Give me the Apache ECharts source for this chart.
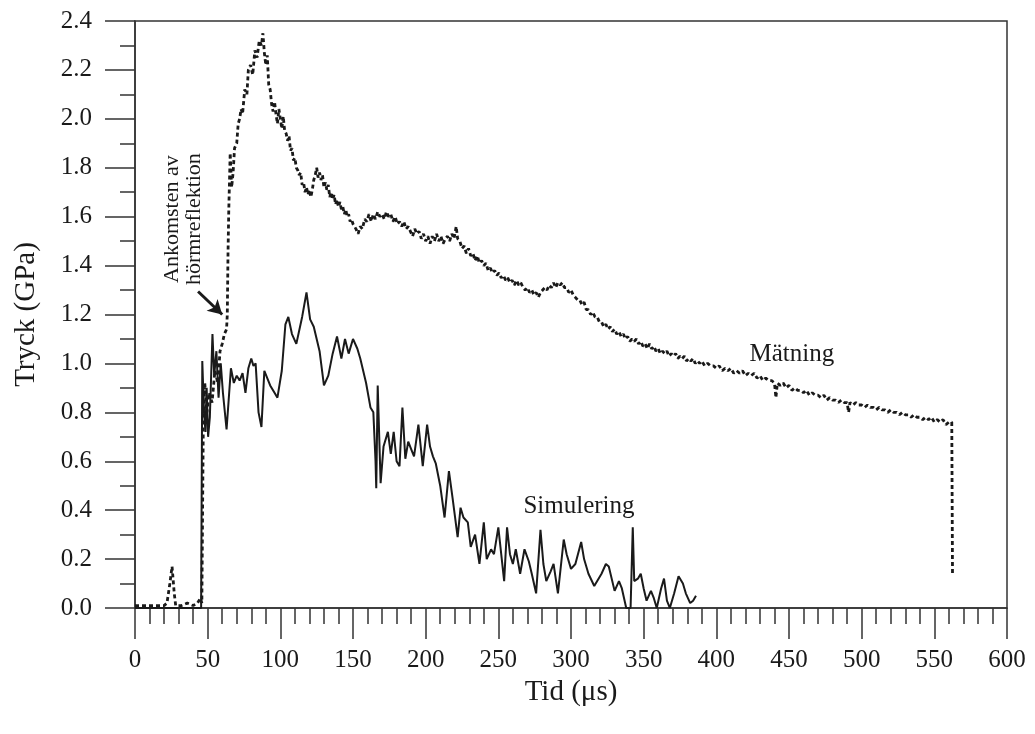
<!DOCTYPE html>
<html>
<head>
<meta charset="utf-8">
<script src="https://cdn.jsdelivr.net/npm/echarts@6/dist/echarts.min.js"></script>
<style>
html,body{margin:0;padding:0;background:#fff;}
#chart{width:1035px;height:734px;}
</style>
</head>
<body>
<div id="chart"></div>
<script>
// ---- data (time in µs, pressure in GPa) ----
const xTicks = [0, 50, 100, 150, 200, 250, 300, 350, 400, 450, 500, 550, 600];
const yTicks = [0.0, 0.2, 0.4, 0.6, 0.8, 1.0, 1.2, 1.4, 1.6, 1.8, 2.0, 2.2, 2.4];

// Mätning (measurement), [time, pressure]
const matning = [
[0,0.01],[5,0.01],[10,0.01],[15,0.01],[20,0.01],[22,0.02],[24,0.10],[25.5,0.17],[27,0.06],[28,0.01],[32,0.01],[36,0.02],[40,0.01],[43,0.02],[45,0.04],[46,0.02],
[46.5,0.40],[47,0.75],[48,0.92],[49.5,0.80],[51,0.88],[53,0.84],[55,0.97],[57,0.92],[58.5,1.05],[60,1.08],[61.5,1.12],[63,1.14],[63.5,1.20],[64,1.45],[64.5,1.62],[65.5,1.86],[66.5,1.72],[67.5,1.78],[68.5,1.88],
[70,1.90],[71,1.98],[72,2.00],[73,2.04],[74,2.02],[75.5,2.12],[77,2.10],[78,2.20],[79.5,2.22],[81,2.18],[82.5,2.28],[84,2.25],[85.5,2.32],[87,2.30],[88,2.35],[89,2.27],
[90,2.22],[91,2.26],[92,2.14],[93,2.12],[94,2.06],[95,2.03],[96,2.07],[97,2.02],[98,1.98],[99,2.04],[100,2.00],[101,1.96],[102,2.01],[103,1.95],[104,1.94],[105,1.91],[106,1.93],[107,1.87],[108,1.88],[109,1.83],
[110,1.84],[111,1.80],[112,1.79],[113,1.77],[114,1.78],[115,1.73],[116,1.74],[117,1.70],[118,1.72],[119,1.69],[120,1.71],[121,1.68],[122,1.71],[123,1.75],[124,1.77],[125,1.80],[126,1.76],[127,1.78],[128,1.75],[129,1.77],
[130,1.72],[131,1.74],[132,1.71],[133,1.73],[134,1.68],[135,1.70],[136,1.67],[137,1.69],[138,1.65],[139,1.67],[140,1.64],[141,1.66],[142,1.63],[143,1.64],[144,1.61],[145,1.63],[146,1.60],[147,1.61],[148,1.58],[149,1.59],
[150,1.57],[152,1.55],[153.5,1.53],[155,1.56],[156.5,1.55],[158,1.59],[159.5,1.58],[161,1.61],[162.5,1.58],[164,1.61],[165.5,1.59],[167,1.62],[168.5,1.60],[170,1.61],[171.5,1.59],[173,1.62],[174.5,1.60],[176,1.61],[177.5,1.58],[179,1.60],
[180.5,1.57],[182,1.58],[183.5,1.56],[185,1.58],[186.5,1.55],[188,1.56],[189.5,1.54],[191,1.52],[192.5,1.55],[194,1.53],[195.5,1.54],[197,1.51],[198.5,1.53],[200,1.50],[201.5,1.52],[203,1.49],[204.5,1.52],[206,1.50],[207.5,1.53],[209,1.50],
[210.5,1.52],[212,1.49],[213.5,1.51],[215,1.52],[216.5,1.50],[218,1.53],[219.5,1.51],[221,1.56],[222,1.51],[223.5,1.50],[225,1.47],[226.5,1.48],[228,1.45],[229.5,1.47],[231,1.44],[232.5,1.45],[234,1.42],[235.5,1.44],[237,1.41],[238.5,1.42],
[240,1.40],[241.5,1.41],[243,1.38],[244.5,1.39],[246,1.37],[247.5,1.38],[249,1.36],[250.5,1.37],[252,1.35],[253.5,1.36],[255,1.34],[256.5,1.35],[258,1.33],[259.5,1.34],[261,1.32],[262.5,1.34],[264,1.32],[265.5,1.33],[267,1.31],[268.5,1.30],
[270,1.31],[271.5,1.29],[273,1.30],[274.5,1.28],[276,1.29],[277.5,1.27],[279,1.29],[280.5,1.30],[282,1.31],[283.5,1.30],[285,1.32],[286.5,1.31],[288,1.33],[289.5,1.31],[291,1.33],[292.5,1.32],[294,1.33],[295.5,1.31],[297,1.31],[298.5,1.29],
[300,1.30],[301.5,1.28],[303,1.27],[304.5,1.26],[306,1.26],[307.5,1.24],[309,1.25],[310.5,1.22],[312,1.22],[313.5,1.20],[315,1.21],[316.5,1.19],[318,1.19],[319.5,1.17],[321,1.17],[322.5,1.15],[324,1.16],[325.5,1.14],[327,1.15],[328.5,1.13],
[330,1.14],[331.5,1.12],[333,1.13],[334.5,1.11],[336,1.12],[337.5,1.10],[339,1.11],[340.5,1.09],[342,1.10],[343.5,1.09],[345,1.10],[346.5,1.08],[348,1.09],[349.5,1.07],[351,1.08],[352.5,1.06],[354,1.08],[355.5,1.06],[357,1.07],[358.5,1.05],
[360,1.06],[361.5,1.04],[363,1.05],[364.5,1.04],[366,1.05],[367.5,1.03],[369,1.04],[370.5,1.03],[372,1.04],[373.5,1.02],[375,1.03],[376.5,1.02],[378,1.03],[379.5,1.01],[381,1.02],[382.5,1.01],[384,1.02],[385.5,1.00],[387,1.01],[388.5,1.00],
[390,1.01],[392,0.99],[394,1.00],[396,0.99],[398,0.99],[400,0.98],[402,0.99],[404,0.97],[406,0.98],[408,0.97],[410,0.98],[412,0.96],[414,0.97],[416,0.96],[418,0.97],[420,0.95],[422,0.96],[424,0.95],[426,0.96],[428,0.94],
[430,0.95],[432,0.93],[434,0.94],[436,0.93],[438,0.93],[440,0.92],[441,0.86],[442,0.92],[444,0.91],[446,0.92],[448,0.90],[450,0.91],[452,0.89],[454,0.90],[456,0.89],[458,0.89],[460,0.88],[462,0.89],[464,0.87],[466,0.88],
[468,0.87],[470,0.87],[472,0.86],[474,0.87],[476,0.85],[478,0.86],[480,0.85],[482,0.85],[484,0.84],[486,0.85],[488,0.84],[490,0.84],[491,0.80],[492,0.84],[494,0.83],[496,0.84],[498,0.83],[500,0.83],[502,0.82],[504,0.83],
[506,0.82],[508,0.82],[510,0.81],[512,0.82],[514,0.81],[516,0.81],[518,0.80],[520,0.81],[522,0.80],[524,0.80],[526,0.79],[528,0.80],[530,0.79],[532,0.79],[534,0.78],[536,0.79],[538,0.78],[540,0.78],[542,0.77],[544,0.78],
[546,0.77],[548,0.78],[550,0.76],[552,0.77],[554,0.76],[556,0.77],[558,0.75],[560,0.76],[562,0.76],[562.5,0.14]
];

// Simulering (simulation), [time, pressure]
const simulering = [
[0,0.0],[45.5,0.0],[46.3,1.01],[47.5,0.80],[48.5,0.72],[49.3,0.90],[50.3,0.70],[51.5,0.78],[53.3,1.12],[54.5,0.95],[56,1.05],[57.5,0.86],[59,1.00],[60.5,0.88],[63,0.73],[66,0.98],[68,0.92],[70,0.95],[72,0.93],[74,0.96],
[76,0.88],[78,0.98],[80,1.02],[81.5,0.99],[83,1.00],[85,0.80],[87,0.74],[89,0.97],[91,0.94],[93,0.91],[96,0.88],[98,0.86],[101,0.97],[103.5,1.16],[105.5,1.19],[108,1.12],[111,1.08],[115,1.19],[118,1.29],[120.5,1.18],
[123,1.15],[127,1.05],[130,0.91],[133,0.95],[136,1.04],[139,1.11],[142,1.02],[144.5,1.10],[147,1.04],[150,1.10],[153,1.06],[155,1.02],[159,0.92],[162,0.82],[164,0.80],[165.5,0.60],[166,0.49],[167,0.91],[169,0.51],[171,0.66],
[174,0.72],[176,0.63],[178,0.72],[180,0.60],[182,0.58],[184,0.82],[186,0.61],[188,0.68],[190,0.65],[192,0.62],[195,0.75],[198,0.58],[201,0.75],[203,0.66],[205,0.62],[207,0.59],[210,0.50],[213,0.37],[216,0.56],[218.5,0.45],
[222,0.29],[224,0.41],[226,0.37],[229,0.35],[231,0.25],[234,0.30],[237,0.18],[240,0.35],[242,0.20],[245,0.24],[247,0.22],[250,0.33],[254,0.11],[256,0.33],[258,0.22],[260,0.18],[262,0.24],[265,0.14],[268,0.24],[271,0.19],
[273,0.14],[276,0.06],[279,0.32],[281,0.18],[283,0.11],[286,0.15],[288,0.18],[291,0.06],[295,0.28],[297,0.22],[300,0.16],[303,0.18],[307,0.27],[309,0.20],[312,0.14],[316,0.09],[321,0.14],[324,0.18],[326,0.17],[330,0.07],
[333,0.11],[335,0.08],[338,0.0],[341,0.0],[342.5,0.33],[343.5,0.11],[346,0.12],[348,0.14],[350,0.08],[352,0.03],[355,0.07],[357,0.04],[359,0.0],[362,0.08],[364,0.12],[366,0.03],[368,0.0],[371,0.06],[374,0.13],[377,0.10],
[379,0.06],[382,0.02],[384,0.03],[386,0.05]
];

const annotations = [
  {text: 'Ankomsten av', t: 25.5, p: 1.59, rot: true, size: 22},
  {text: 'hörmreflektion', t: 40.5, p: 1.59, rot: true, size: 22},
  {text: 'Mätning', t: 452, p: 1.036, rot: false, size: 25},
  {text: 'Simulering', t: 305.5, p: 0.414, rot: false, size: 25}
];
const arrowFrom = [43.4, 1.294];
const arrowTo = [60, 1.20];

// ---- chart ----
const FONT = 'Liberation Serif, Times New Roman, serif';
const INK = '#1a1a1a';
const chart = echarts.init(document.getElementById('chart'), null, {renderer: 'canvas'});

chart.setOption({
  animation: false,
  backgroundColor: '#fff',
  grid: {left: 135, right: 28, top: 21, bottom: 126, show: true, borderColor: '#333', borderWidth: 1.5},
  xAxis: {
    type: 'value', min: xTicks[0], max: xTicks[xTicks.length - 1], interval: xTicks[1] - xTicks[0],
    name: 'Tid (μs)', nameLocation: 'middle', nameGap: 67,
    nameTextStyle: {fontFamily: FONT, fontSize: 29, color: INK},
    axisLine: {lineStyle: {color: '#333', width: 1.5}},
    axisTick: {show: true, inside: false, length: 31, lineStyle: {color: '#333', width: 1.5}},
    minorTick: {show: true, splitNumber: 5, length: 16, lineStyle: {color: '#333', width: 1.5}},
    axisLabel: {fontFamily: FONT, fontSize: 25, color: INK, margin: 40, showMaxLabel: true},
    splitLine: {show: false}
  },
  yAxis: {
    type: 'value', min: yTicks[0], max: yTicks[yTicks.length - 1], interval: 0.2,
    name: 'Tryck (GPa)', nameLocation: 'middle', nameGap: 94,
    nameTextStyle: {fontFamily: FONT, fontSize: 29, color: INK},
    axisLine: {show: true, lineStyle: {color: '#333', width: 1.5}},
    axisTick: {show: true, inside: false, length: 30, lineStyle: {color: '#333', width: 1.5}},
    minorTick: {show: true, splitNumber: 2, length: 15, lineStyle: {color: '#333', width: 1.5}},
    axisLabel: {fontFamily: FONT, fontSize: 25, color: INK, margin: 43,
      formatter: v => v.toFixed(1)},
    splitLine: {show: false}
  },
  series: [
    {
      name: 'Simulering', type: 'line', data: simulering,
      showSymbol: false, symbol: 'none',
      lineStyle: {color: INK, width: 2}
    },
    {
      name: 'Mätning', type: 'line', data: matning,
      showSymbol: false, symbol: 'none',
      lineStyle: {color: INK, width: 2.8, type: [4, 3]},
      markLine: {
        silent: true, symbol: ['none', 'arrow'], symbolSize: [12, 14],
        label: {show: false},
        lineStyle: {color: INK, width: 3, type: 'solid'},
        data: [[{coord: arrowFrom}, {coord: arrowTo}]]
      }
    }
  ]
});

const gfx = annotations.map(a => {
  const pt = chart.convertToPixel({gridIndex: 0}, [a.t, a.p]);
  return {
    type: 'text', x: pt[0], y: pt[1], rotation: a.rot ? Math.PI / 2 : 0,
    style: {text: a.text, fontFamily: FONT, fontSize: a.size, fill: INK,
      textAlign: 'center', textVerticalAlign: 'middle'}
  };
});
chart.setOption({graphic: gfx});
</script>
</body>
</html>
